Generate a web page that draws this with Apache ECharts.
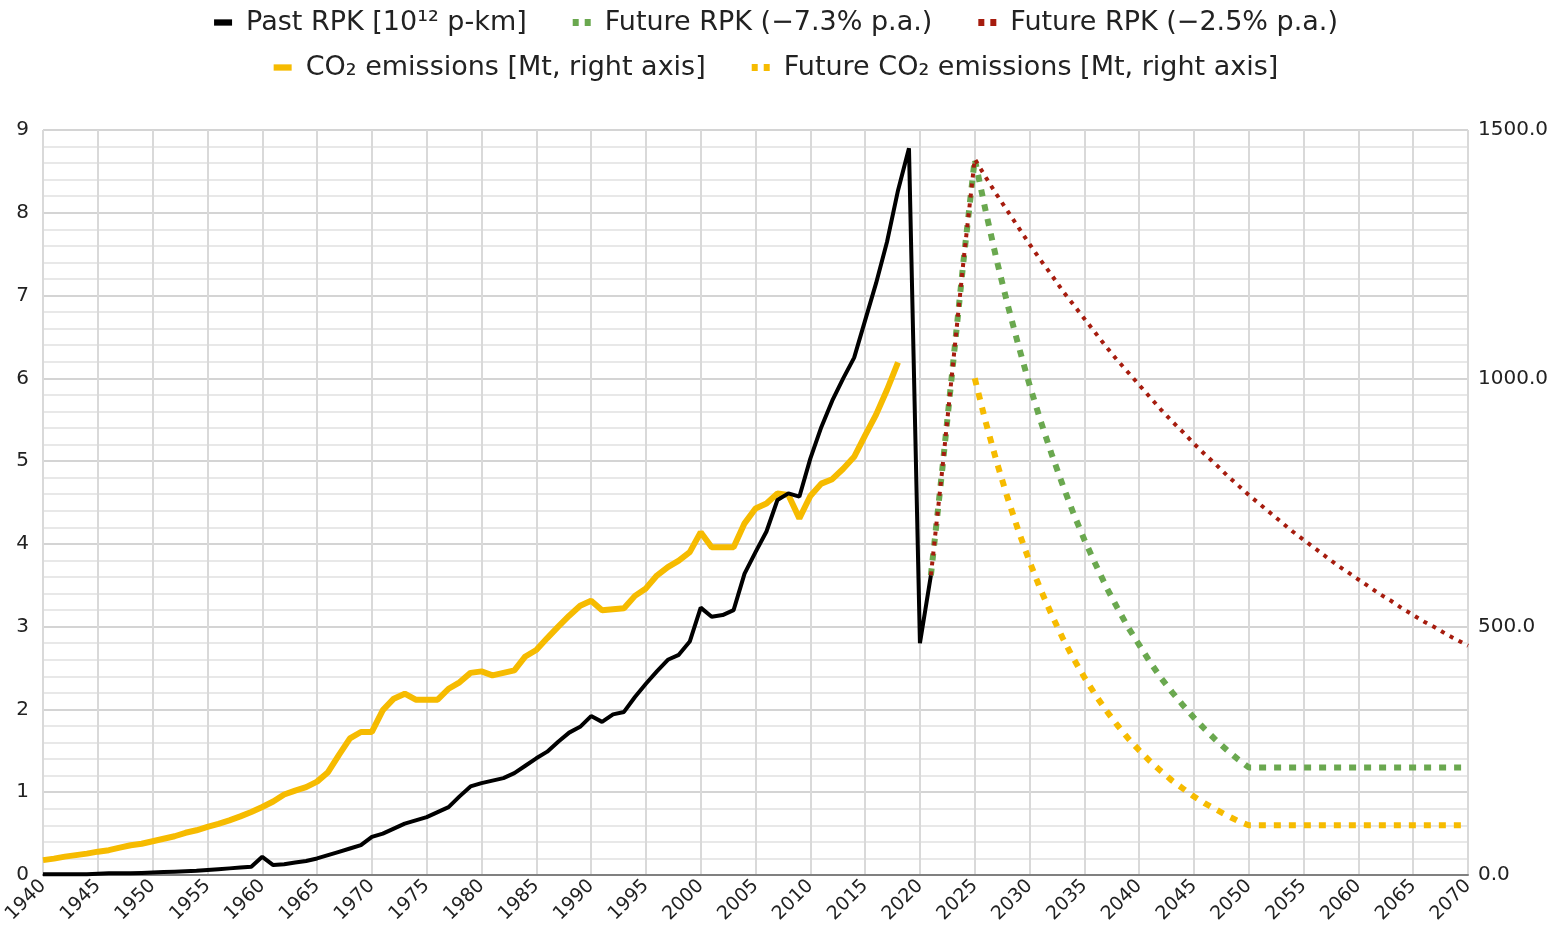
<!DOCTYPE html>
<html>
<head>
<meta charset="utf-8">
<script src="https://cdn.jsdelivr.net/npm/echarts@6/dist/echarts.min.js"></script>
<style>
  html, body { margin: 0; padding: 0; background: #fff; }
  #chart { width: 1552px; height: 940px; }
</style>
</head>
<body>
<div id="chart"></div>
<script>
// past revenue passenger km, 10^12 p-km, yearly from 1940
const pastStart = 1940;
const pastRpk = [
  0.01, 0.01, 0.01, 0.01, 0.01, 0.015, 0.02, 0.02, 0.02, 0.025,
  0.03, 0.035, 0.04, 0.045, 0.05, 0.06, 0.07, 0.08, 0.09, 0.1,
  0.22, 0.12, 0.13, 0.15, 0.17, 0.2, 0.24, 0.28, 0.32, 0.36,
  0.46, 0.5, 0.56, 0.62, 0.66, 0.7, 0.76, 0.82, 0.95, 1.07,
  1.11, 1.14, 1.17, 1.23, 1.32, 1.41, 1.49, 1.61, 1.72, 1.79,
  1.92, 1.85, 1.94, 1.97, 2.15, 2.31, 2.46, 2.6, 2.66, 2.82,
  3.23, 3.12, 3.14, 3.2, 3.64, 3.9, 4.15, 4.53, 4.61, 4.57,
  5.03, 5.41, 5.73, 6.0, 6.25, 6.7, 7.15, 7.65, 8.27, 8.78,
  2.8, 3.62
];

// CO2 emissions, Mt, yearly from 1940 to 2018
const co2Start = 1940;
const co2 = [
  30, 33, 37, 40, 43, 47, 50, 55, 60, 63,
  68, 73, 78, 85, 90, 97, 103, 110, 118, 127,
  137, 148, 162, 170, 177, 188, 207, 242, 275, 288,
  288, 332, 355, 365, 353, 353, 353, 375, 388, 407,
  410, 402, 407, 412, 440, 453, 477, 500, 522, 542,
  552, 533, 535, 537, 562, 577, 603, 620, 633, 650,
  690, 660, 660, 660, 708, 738, 748, 768, 765, 718,
  763, 788, 797, 818, 842, 885, 927, 977, 1032
];

// future scenarios, yearly from 2021
const futureStart = 2021;
const futureRpkFast = [
  3.62, 4.85, 6.15, 7.45, 8.65,
  8.02, 7.43, 6.89, 6.39, 5.92, 5.49, 5.09, 4.72, 4.37, 4.05,
  3.76, 3.48, 3.23, 2.99, 2.78, 2.57, 2.38, 2.21, 2.05, 1.9,
  1.76, 1.63, 1.51, 1.4, 1.3,
  1.3, 1.3, 1.3, 1.3, 1.3, 1.3, 1.3, 1.3, 1.3, 1.3,
  1.3, 1.3, 1.3, 1.3, 1.3, 1.3, 1.3, 1.3, 1.3, 1.3
];
const futureRpkSlow = [
  3.62, 4.85, 6.15, 7.45, 8.65,
  8.43, 8.22, 8.02, 7.82, 7.62, 7.43, 7.25, 7.06, 6.89, 6.72,
  6.55, 6.38, 6.22, 6.07, 5.92, 5.77, 5.62, 5.48, 5.35, 5.21,
  5.08, 4.96, 4.83, 4.71, 4.59, 4.48, 4.37, 4.26, 4.15, 4.05,
  3.95, 3.85, 3.75, 3.66, 3.57, 3.48, 3.39, 3.31, 3.22, 3.14,
  3.06, 2.99, 2.91, 2.84, 2.77
];

// future CO2, Mt, yearly from 2025
const futureCo2Start = 2025;
const futureCo2 = [
  1000, 912, 832, 759, 692, 631, 575, 525, 478, 436,
  398, 363, 331, 302, 275, 251, 229, 209, 190, 174,
  158, 144, 132, 120, 109, 100,
  100, 100, 100, 100, 100, 100, 100, 100, 100, 100,
  100, 100, 100, 100, 100, 100, 100, 100, 100, 100
];

const names = [
  'Past RPK [10¹² p-km]',
  'Future RPK (−7.3% p.a.)',
  'Future RPK (−2.5% p.a.)',
  'CO₂ emissions [Mt, right axis]',
  'Future CO₂ emissions [Mt, right axis]'
];

function pairs(start, arr) {
  return arr.map((v, i) => [start + i, v]);
}

const font = 'DejaVu Sans, Verdana, sans-serif';
const solidIcon = 'path://M0,0H20V7H0Z';
const dotIcon = 'path://M0,0H6V7H0Z M12,0H18V7H12Z';

const chart = echarts.init(document.getElementById('chart'));

const legendBase = {
  left: 'center',
  itemWidth: 18,
  itemHeight: 7,
  itemGap: 46,
  textStyle: { fontFamily: font, fontSize: 27, color: '#222', padding: [0, 0, 0, 9] }
};

const option = {
  animation: false,
  backgroundColor: '#fff',
  legend: [
    Object.assign({}, legendBase, {
      top: 4,
      data: [
        { name: names[0], icon: solidIcon },
        { name: names[1], icon: dotIcon },
        { name: names[2], icon: dotIcon }
      ]
    }),
    Object.assign({}, legendBase, {
      top: 49,
      data: [
        { name: names[3], icon: solidIcon },
        { name: names[4], icon: dotIcon }
      ]
    })
  ],
  grid: { left: 43, right: 84, top: 130, bottom: 65 },
  xAxis: {
    type: 'value',
    min: 1940,
    max: 2070,
    interval: 5,
    axisLine: { lineStyle: { color: '#808080', width: 2 } },
    axisTick: { show: false },
    axisLabel: {
      rotate: 45,
      margin: 8,
      fontFamily: font,
      fontSize: 19,
      color: '#222',
      formatter: (v) => String(v)
    },
    splitLine: { show: true, lineStyle: { color: '#d9d9d9', width: 2 } }
  },
  yAxis: [
    {
      type: 'value',
      min: 0,
      max: 9,
      interval: 1,
      axisLine: { show: false },
      axisTick: { show: false },
      axisLabel: { fontFamily: font, fontSize: 20, color: '#222', margin: 14 },
      splitLine: { show: true, lineStyle: { color: '#d4d4d4', width: 2 } },
      minorTick: { show: false, splitNumber: 5 },
      minorSplitLine: { show: true, lineStyle: { color: '#e8e8e8', width: 2 } }
    },
    {
      type: 'value',
      min: 0,
      max: 1500,
      interval: 500,
      axisLine: { show: false },
      axisTick: { show: false },
      axisLabel: {
        fontFamily: font,
        fontSize: 20,
        color: '#222',
        margin: 10,
        formatter: (v) => v.toFixed(1)
      },
      splitLine: { show: false }
    }
  ],
  series: [
    {
      name: names[0],
      type: 'line',
      data: pairs(pastStart, pastRpk),
      symbol: 'none',
      color: '#000',
      lineStyle: { color: '#000', width: 4 },
      z: 5
    },
    {
      name: names[1],
      type: 'line',
      data: pairs(futureStart, futureRpkFast),
      symbol: 'none',
      color: '#6aa84f',
      lineStyle: { color: '#6aa84f', width: 6, type: [7, 8], cap: 'butt' },
      z: 3
    },
    {
      name: names[2],
      type: 'line',
      data: pairs(futureStart, futureRpkSlow),
      symbol: 'none',
      color: '#a61c0e',
      lineStyle: { color: '#a61c0e', width: 4, type: [4, 6], cap: 'butt' },
      z: 4
    },
    {
      name: names[3],
      type: 'line',
      yAxisIndex: 1,
      data: pairs(co2Start, co2),
      symbol: 'none',
      color: '#f6bb00',
      lineStyle: { color: '#f6bb00', width: 6 },
      z: 4
    },
    {
      name: names[4],
      type: 'line',
      yAxisIndex: 1,
      data: pairs(futureCo2Start, futureCo2),
      symbol: 'none',
      color: '#f6bb00',
      lineStyle: { color: '#f6bb00', width: 6, type: [7, 8], cap: 'butt' },
      z: 3
    }
  ]
};

chart.setOption(option);
</script>
</body>
</html>
